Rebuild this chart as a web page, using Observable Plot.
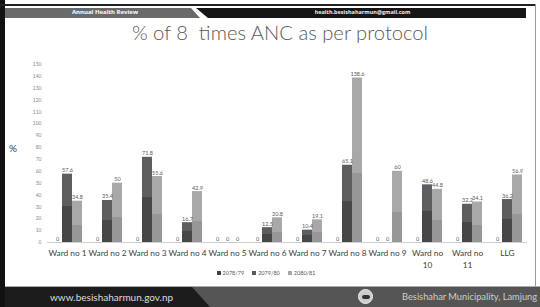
<!DOCTYPE html>
<html><head><meta charset="utf-8">
<script src="https://cdn.jsdelivr.net/npm/d3@7"></script>
<script src="https://cdn.jsdelivr.net/npm/@observablehq/plot@0.6"></script>
<style>
html,body{margin:0;padding:0;background:#fff;}
#slide{position:relative;width:540px;height:307px;overflow:hidden;background:#fff;font-family:Lato,"Open Sans",sans-serif;}
.abs{position:absolute;}
</style></head>
<body>
<div id="slide">
  <div class="abs" style="left:0;top:0;width:5px;height:307px;background:#111;"></div>
  <div class="abs" style="left:0;top:4px;width:536px;height:2px;background:#222;"></div>
  <div class="abs" style="left:535px;top:4px;width:1px;height:283px;background:#999;"></div>
  <div class="abs" style="left:5px;top:8px;width:195px;height:10px;background:#6a6a6a;clip-path:polygon(0 0,186px 0,195px 10px,0 10px);"></div>
  <div class="abs" style="left:196px;top:8px;width:330px;height:10px;background:#161616;clip-path:polygon(0 0,330px 0,330px 10px,12px 10px);"></div>
  <div class="abs" style="left:60px;top:8px;width:90px;height:10px;line-height:10px;text-align:center;color:#fff;font:bold 6px 'Open Sans',sans-serif;">Annual Health Review</div>
  <div class="abs" style="left:300px;top:8px;width:125px;height:10px;line-height:10px;text-align:center;color:#eee;font:bold 5.5px 'Open Sans',sans-serif;">health.besishaharmun@gmail.com</div>
  <div id="title" class="abs" style="left:10px;top:20px;width:540px;text-align:center;color:#595959;font:300 20.2px Lato,sans-serif;white-space:pre;">% of 8  times ANC as per protocol</div>
  <div class="abs" style="left:9px;top:142px;color:#404040;font:10px Lato,sans-serif;">%</div>
  <div id="chart" class="abs" style="left:0;top:45px;"></div>
  <div id="legend" class="abs" style="left:0;top:270px;width:532px;text-align:center;font:5.5px Lato,sans-serif;color:#595959;"></div>
  <div class="abs" style="left:5px;top:286px;width:535px;height:1px;background:#aaa;"></div>
  <div class="abs" style="left:5px;top:287px;width:535px;height:20px;background:#1c1c1c;"></div>
  <div class="abs" style="left:192px;top:287px;width:348px;height:20px;background:#555;clip-path:polygon(0 0,348px 0,348px 20px,18px 20px);"></div>
  <div class="abs" style="left:50px;top:291px;color:#ddd;font:10px Lato,sans-serif;white-space:nowrap;">www.besishaharmun.gov.np</div>
  <div class="abs" style="left:358px;top:289px;width:15px;height:15px;border-radius:50%;background:#ccc;border:1px solid #eee;box-sizing:border-box;">
    <div class="abs" style="left:3px;top:5px;width:8px;height:4px;border-radius:2px;background:#333;"></div>
  </div>
  <div class="abs" style="left:402px;top:291px;color:#ccc;font:9.3px Lato,sans-serif;white-space:nowrap;">Besishahar Municipality, Lamjung</div>
</div>
<script>
const categories = ["Ward no 1","Ward no 2","Ward no 3","Ward no 4","Ward no 5","Ward no 6","Ward no 7","Ward no 8","Ward no 9","Ward no 10","Ward no 11","LLG"];
const series = ["2078/79","2079/80","2080/81"];
const v2078_79 = [0,0,0,0,0,0,0,0,0,0,0,0];
const v2079_80 = [57.6,35.4,71.8,16.7,0,12.5,10.4,65.1,0,48.6,32.2,36.2];
const v2080_81 = [34.8,50,55.6,42.9,0,20.8,19.1,138.6,60,44.8,34.1,56.9];
const yTicks = [0,10,20,30,40,50,60,70,80,90,100,110,120,130,140,150];
const seriesColors = ["#404040","#5a5a5a","#a6a6a6"];

const allValues = [v2078_79, v2079_80, v2080_81];
const rows = [];
categories.forEach((c, i) => series.forEach((s, j) => rows.push({category: c, series: s, value: allValues[j][i]})));

const plot = Plot.plot({
  width: 540,
  height: 240,
  marginLeft: 44,
  marginRight: 11,
  marginTop: 19,
  marginBottom: 43,
  style: {fontFamily: "Lato, sans-serif", background: "transparent"},
  fx: {domain: categories, paddingInner: 0, paddingOuter: 0, label: null},
  x: {domain: series, axis: null, paddingInner: 0.05, paddingOuter: 0.39},
  y: {domain: [0, 150], axis: null},
  color: {domain: series, range: ["url(#g0)", "url(#g1)", "url(#g2)"]},
  marks: [
    Plot.barY(rows, {fx: "category", x: "series", y: "value", fill: "series"}),
    Plot.ruleY([0], {stroke: "#d0d0d0", strokeWidth: 1}),
    Plot.text(rows, {fx: "category", x: "series", y: "value", text: d => String(d.value), lineAnchor: "bottom", dy: -2, fontSize: 5.5, fill: "#595959"}),
    Plot.axisY({ticks: yTicks, tickSize: 0, tickPadding: 6, fontSize: 5, fill: "#8a8a8a", label: null}),
    Plot.axisFx({anchor: "bottom", tickSize: 0, tickPadding: 6, fontSize: 8.3, lineHeight: 1.35, fill: "#404040", label: null,
      tickFormat: d => d.length > 9 ? d.replace(/ (\d+)$/, "\n$1") : d})
  ]
});

const ns = "http://www.w3.org/2000/svg";
const defs = document.createElementNS(ns, "defs");
const grads = [
  [["#404040",0],["#404040",0.5],["#2e2e2e",0.5],["#2e2e2e",1]],
  [["#5e5e5e",0],["#5e5e5e",0.47],["#474747",0.47],["#474747",1]],
  [["#a8a8a8",0],["#a8a8a8",0.58],["#979797",0.58],["#979797",1]]
];
grads.forEach((stops, k) => {
  const g = document.createElementNS(ns, "linearGradient");
  g.setAttribute("id", "g" + k);
  g.setAttribute("x1", "0"); g.setAttribute("y1", "0");
  g.setAttribute("x2", "0"); g.setAttribute("y2", "1");
  stops.forEach(([col, off]) => {
    const s = document.createElementNS(ns, "stop");
    s.setAttribute("offset", off);
    s.setAttribute("stop-color", col);
    g.appendChild(s);
  });
  defs.appendChild(g);
});
plot.insertBefore(defs, plot.firstChild);
document.getElementById("chart").appendChild(plot);

const legend = document.getElementById("legend");
series.forEach((s, i) => {
  const item = document.createElement("span");
  item.style.cssText = "display:inline-flex;align-items:center;margin:0 4px;";
  item.innerHTML = `<span style="display:inline-block;width:4px;height:4px;background:${seriesColors[i]};margin-right:2px;"></span>${s}`;
  legend.appendChild(item);
});
</script>
</body></html>
